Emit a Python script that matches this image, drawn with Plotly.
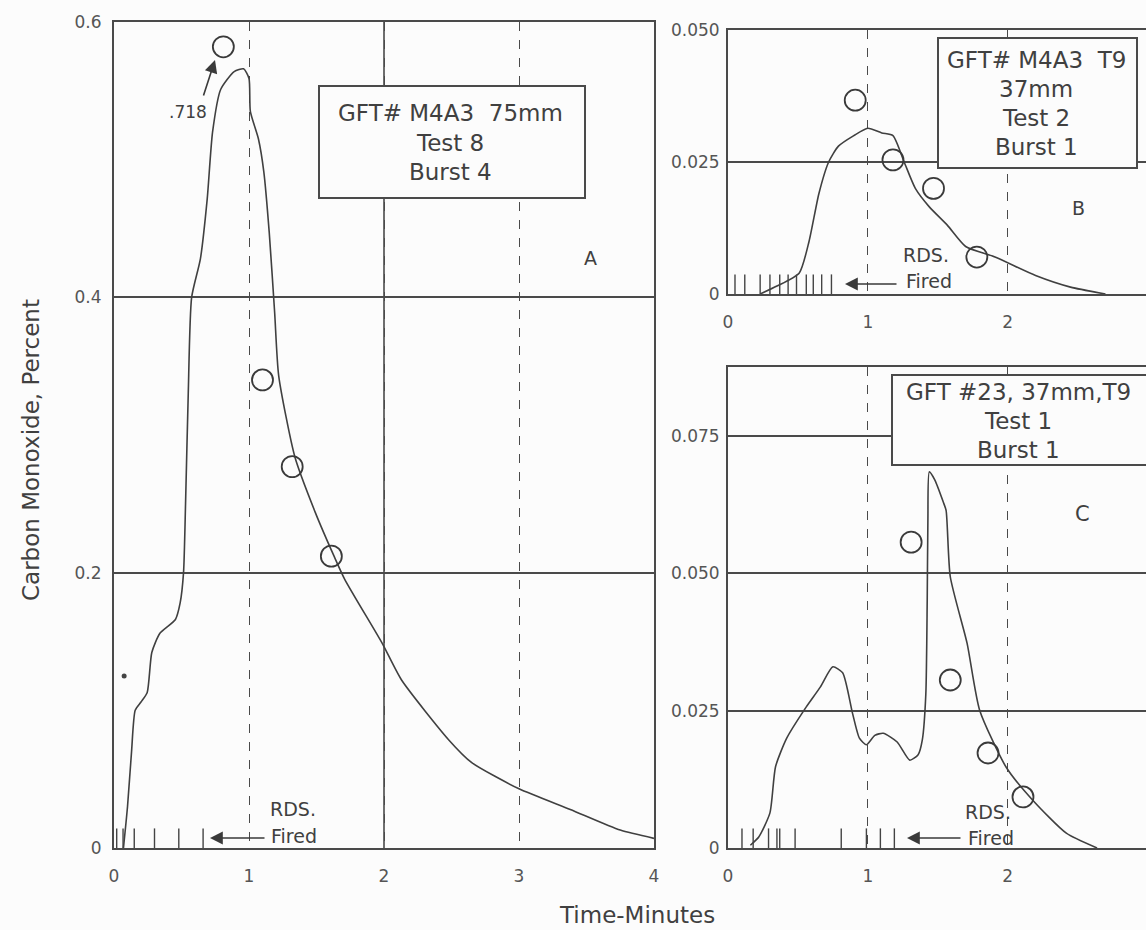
import plotly.graph_objects as go

# ---------------- data ----------------
# Panel A: GFT# M4A3 75mm, Test 8, Burst 4
a_time = [0.07, 0.10, 0.13, 0.157, 0.20, 0.246, 0.28, 0.34, 0.455, 0.49, 0.515, 0.53, 0.55, 0.575,
          0.64, 0.69, 0.73, 0.79, 0.89, 0.96, 1.0, 1.01, 1.07, 1.11, 1.15, 1.19, 1.22, 1.34, 1.49,
          1.63, 1.71, 1.985, 2.13, 2.48, 2.65, 3.0, 3.38, 3.75, 4.0]
a_co = [0.0, 0.03, 0.07, 0.100, 0.106, 0.113, 0.142, 0.156, 0.166, 0.178, 0.200, 0.25, 0.33, 0.40,
        0.428, 0.471, 0.52, 0.551, 0.564, 0.566, 0.559, 0.535, 0.515, 0.491, 0.447, 0.389, 0.343,
        0.284, 0.244, 0.212, 0.195, 0.149, 0.122, 0.0785, 0.062, 0.043, 0.028, 0.013, 0.007]
a_obs_time = [0.81, 1.10, 1.32, 1.61]
a_obs_co = [0.582, 0.340, 0.277, 0.212]
a_rounds = [0.02, 0.067, 0.15, 0.30, 0.48, 0.66]
a_dot_time = [0.075]
a_dot_co = [0.125]

# Panel B: GFT# M4A3 T9 37mm, Test 2, Burst 1
b_time = [0.23, 0.35, 0.51, 0.58, 0.65, 0.72, 0.79, 0.90, 1.0, 1.10, 1.18, 1.26, 1.34, 1.44,
          1.57, 1.70, 1.91, 2.20, 2.45, 2.70]
b_co = [0.0, 0.0015, 0.004, 0.010, 0.019, 0.025, 0.028, 0.030, 0.0314, 0.0305, 0.030, 0.025,
        0.020, 0.0165, 0.013, 0.009, 0.007, 0.0035, 0.0013, 0.0]
b_obs_time = [0.91, 1.18, 1.47, 1.78]
b_obs_co = [0.0367, 0.0254, 0.0200, 0.0070]
b_rounds = [0.05, 0.12, 0.23, 0.30, 0.37, 0.43, 0.49, 0.56, 0.61, 0.67, 0.74]

# Panel C: GFT #23, 37mm, T9, Test 1, Burst 1
c_time = [0.16, 0.22, 0.30, 0.34, 0.42, 0.56, 0.66, 0.75, 0.82, 0.89, 0.94, 0.99, 1.05, 1.11,
          1.21, 1.30, 1.36, 1.39, 1.415, 1.425, 1.43, 1.44, 1.48, 1.54, 1.56, 1.59, 1.71, 1.80,
          1.99, 2.18, 2.42, 2.64]
c_co = [0.0005, 0.002, 0.0064, 0.0148, 0.020, 0.0257, 0.0293, 0.033, 0.0319, 0.0246, 0.020,
        0.0188, 0.0205, 0.0209, 0.0193, 0.016, 0.017, 0.0197, 0.028, 0.045, 0.060, 0.0685, 0.067,
        0.063, 0.0615, 0.0494, 0.0373, 0.0251, 0.0147, 0.0087, 0.0027, 0.0]
c_obs_time = [1.31, 1.59, 1.86, 2.11]
c_obs_co = [0.0557, 0.0306, 0.0173, 0.0093]
c_rounds = [0.10, 0.18, 0.29, 0.35, 0.37, 0.48, 0.81, 0.99, 1.09, 1.19]

a_yticks = [0, 0.2, 0.4, 0.6]
a_yticklabels = ["0", "0.2", "0.4", "0.6"]
a_xticks = [0, 1, 2, 3, 4]
b_yticks = [0, 0.025, 0.05]
b_yticklabels = ["0", "0.025", "0.050"]
c_yticks = [0, 0.025, 0.05, 0.075]
c_yticklabels = ["0", "0.025", "0.050", "0.075"]
bc_xticks = [0, 1, 2, 3]

box_a_lines = ["GFT#\u00a0M4A3\u00a0\u00a075mm", "Test 8", "Burst 4"]
box_b_lines = ["GFT#\u00a0M4A3\u00a0\u00a0T9", "37mm", "Test 2", "Burst 1"]
box_c_lines = ["GFT #23, 37mm,T9", "Test 1", "Burst 1"]

# ---------------- styling / geometry ----------------
W, H = 1146, 930
FONT = "DejaVu Sans, Verdana, sans-serif"
INK = "#404040"
GRID = "#4a4a4a"
BG = "#fcfcfc"

# panel pixel frames: (left, right, bottom, top) and ranges
PANELS = {
    "A": dict(px=(114, 654, 848, 22), xr=(0, 4.0), yr=(0, 0.6)),
    "B": dict(px=(728, 1146, 294, 30), xr=(0, 2.99), yr=(0, 0.05)),
    "C": dict(px=(728, 1146, 848, 367), xr=(0, 2.99), yr=(0, 0.0876)),
}


def dom_x(p):
    l, r, b, t = PANELS[p]["px"]
    return [l / W, r / W]


def dom_y(p):
    l, r, b, t = PANELS[p]["px"]
    return [1 - b / H, 1 - t / H]


def P(xp, yp):
    return xp / W, 1 - yp / H


fig = go.Figure()

curve_style = dict(color="#404040", width=1.6)
marker_style = dict(symbol="circle-open", size=21, color="#3a3a3a", line=dict(width=1.8))
tick_style = dict(symbol="line-ns", size=28, color="#444", line=dict(width=1.4, color="#444"))

for t, c, ot, oc, rr, xa, ya in [
    (a_time, a_co, a_obs_time, a_obs_co, a_rounds, "x", "y"),
    (b_time, b_co, b_obs_time, b_obs_co, b_rounds, "x2", "y2"),
    (c_time, c_co, c_obs_time, c_obs_co, c_rounds, "x3", "y3"),
]:
    fig.add_trace(go.Scatter(x=t, y=c, mode="lines", line=dict(shape="spline", smoothing=0.6, **curve_style),
                             xaxis=xa, yaxis=ya, showlegend=False, hoverinfo="skip"))
    fig.add_trace(go.Scatter(x=ot, y=oc, mode="markers", marker=marker_style,
                             xaxis=xa, yaxis=ya, showlegend=False))
    fig.add_trace(go.Scatter(x=rr, y=[0] * len(rr), mode="markers", marker=tick_style,
                             xaxis=xa, yaxis=ya, showlegend=False, cliponaxis=True))

fig.add_trace(go.Scatter(x=a_dot_time, y=a_dot_co, mode="markers",
                         marker=dict(size=5, color="#444"), xaxis="x", yaxis="y", showlegend=False))

tickfont = dict(family=FONT, size=17, color="#555")
common_x = dict(showline=True, mirror=True, linecolor=GRID, linewidth=2, ticks="", automargin=False,
                zeroline=False, showgrid=True, gridcolor=GRID, gridwidth=1.3, griddash="dash",
                tickfont=tickfont, ticklabelstandoff=12)
common_y = dict(showline=True, mirror=True, linecolor=GRID, linewidth=2, ticks="", automargin=False,
                zeroline=False, showgrid=True, gridcolor=GRID, gridwidth=2,
                tickfont=tickfont)

fig.update_layout(
    width=W, height=H, autosize=False,
    margin=dict(l=0, r=0, t=0, b=0, pad=0, autoexpand=False),
    paper_bgcolor=BG, plot_bgcolor=BG, showlegend=False,
    font=dict(family=FONT, color=INK),
    xaxis=dict(domain=dom_x("A"), range=list(PANELS["A"]["xr"]), tickvals=a_xticks, anchor="y", **common_x),
    yaxis=dict(domain=dom_y("A"), range=list(PANELS["A"]["yr"]), tickvals=a_yticks, ticktext=a_yticklabels,
               anchor="x", ticklabelstandoff=7, **common_y),
    xaxis2=dict(domain=dom_x("B"), range=list(PANELS["B"]["xr"]), tickvals=bc_xticks, anchor="y2", **common_x),
    yaxis2=dict(domain=dom_y("B"), range=list(PANELS["B"]["yr"]), tickvals=b_yticks, ticktext=b_yticklabels,
                anchor="x2", ticklabelstandoff=3, **common_y),
    xaxis3=dict(domain=dom_x("C"), range=list(PANELS["C"]["xr"]), tickvals=bc_xticks, anchor="y3", **common_x),
    yaxis3=dict(domain=dom_y("C"), range=list(PANELS["C"]["yr"]), tickvals=c_yticks, ticktext=c_yticklabels,
                anchor="x3", ticklabelstandoff=3, **common_y),
)

shapes = []
# solid vertical line at 2 minutes in panel A
xa0, ya0 = P(114 + (654 - 114) * 2 / 4.0, 848)
xa1, ya1 = P(114 + (654 - 114) * 2 / 4.0, 22)
shapes.append(dict(type="line", xref="paper", yref="paper", x0=xa0, x1=xa1, y0=ya0, y1=ya1,
                   line=dict(color=GRID, width=1.6), layer="below"))
# info boxes (pixel geometry -> paper)
for (x0, y0, x1, y1) in [(319, 86, 585, 198), (938, 38, 1137, 168), (892, 375, 1150, 465)]:
    px0, py1 = P(x0, y0)
    px1, py0 = P(x1, y1)
    shapes.append(dict(type="rect", xref="paper", yref="paper", x0=px0, x1=px1, y0=py0, y1=py1,
                       fillcolor=BG, line=dict(color=GRID, width=2), layer="above"))
fig.update_layout(shapes=shapes)

ann = []


def txt(text, xp, yp, size=16, anchor="center", angle=0):
    x, y = P(xp, yp)
    ann.append(dict(text=text, x=x, y=y, xref="paper", yref="paper", showarrow=False, textangle=angle,
                    xanchor=anchor, yanchor="middle", font=dict(family=FONT, size=size, color=INK)))


for line, yp in zip(box_a_lines, [113, 143, 172]):
    txt(line, 450, yp, 23)
for line, yp in zip(box_b_lines, [60, 89, 118, 147]):
    txt(line, 1036, yp, 23)
for line, yp in zip(box_c_lines, [392, 421, 450]):
    txt(line, 1018, yp, 23)

txt("A", 590, 258, 19)
txt("B", 1078, 208, 19)
txt("C", 1082, 514, 21)

txt(".718", 188, 112, 17)
txt("RDS.", 293, 809, 19)
txt("Fired", 294, 836, 19)
txt("RDS.", 926, 255, 19)
txt("Fired", 929, 281, 19)
txt("RDS.", 988, 812, 19)
txt("Fired", 991, 838, 19)

txt("Time-Minutes", 637, 915, 23)
txt("Carbon Monoxide, Percent", 31, 450, 23, angle=-90)


def arrow(hx, hy, ax, ay):
    x, y = P(hx, hy)
    ann.append(dict(text="", x=x, y=y, xref="paper", yref="paper", showarrow=True,
                    ax=ax, ay=ay, arrowhead=2, arrowsize=1.6, arrowwidth=1.6, arrowcolor="#3a3a3a",
                    standoff=0, startstandoff=0))


arrow(215, 60, -12, 37)
arrow(210, 838, 56, 0)
arrow(845, 284, 53, 0)
arrow(907, 838, 55, 0)

fig.update_layout(annotations=ann)

fig.write_html("out.html")
